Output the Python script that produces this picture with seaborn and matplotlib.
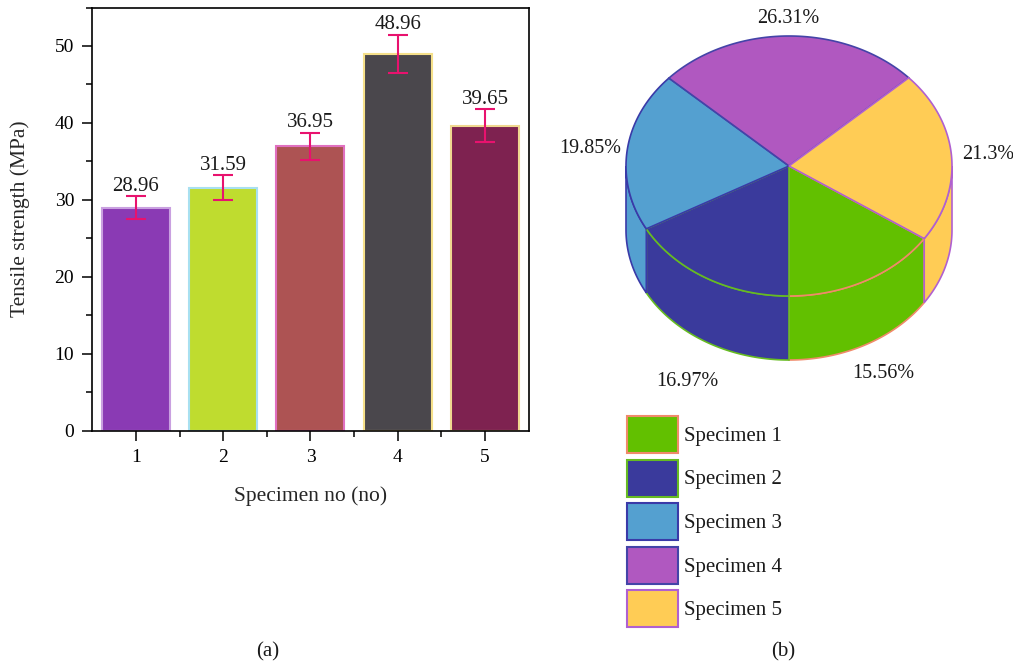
import numpy as np
import pandas as pd
import matplotlib
matplotlib.use("Agg")
import matplotlib.pyplot as plt
import seaborn as sns
from matplotlib.patches import Polygon, Patch
from matplotlib.ticker import MultipleLocator

# ---- panel (a): tensile strength per specimen ----
specimens = ["1", "2", "3", "4", "5"]
strength = [28.96, 31.59, 36.95, 48.96, 39.65]
strength_err = [1.5, 1.6, 1.8, 2.5, 2.1]
bar_colors = ["#8A3AB4", "#BFDC2F", "#AD5353", "#4A474C", "#7E2250"]
bar_edges = ["#C9A0E0", "#A8E0F0", "#E070C0", "#F5E08A", "#F0D890"]
err_color = "#E8126E"

# ---- panel (b): share of each specimen ----
pie_labels = ["Specimen 1", "Specimen 2", "Specimen 3", "Specimen 4", "Specimen 5"]
pie_share = [15.56, 16.97, 19.85, 26.31, 21.3]
pie_colors = ["#62C000", "#3A3A9C", "#54A0D0", "#B058C0", "#FFCC55"]
pie_edges = ["#F08A6A", "#66BB22", "#3A3AA8", "#4444A8", "#B060D0"]

sns.set_theme(style="ticks")
plt.rcParams["font.family"] = ["Liberation Serif", "DejaVu Serif"]
plt.rcParams.update({
    "axes.edgecolor": "black",
    "axes.linewidth": 1.2,
    "xtick.color": "black",
    "ytick.color": "black",
    "text.color": "#1a1a1a",
})

W, H = 1013, 667
fig = plt.figure(figsize=(W / 100, H / 100), dpi=100)

# ---------------- bar chart ----------------
ax = fig.add_axes([92.3 / W, 1 - 430.7 / H, (528.6 - 92.3) / W, (430.7 - 7.5) / H])
df = pd.DataFrame({"Specimen": specimens, "Strength": strength})
sns.barplot(data=df, x="Specimen", y="Strength", hue="Specimen",
            palette=bar_colors, legend=False, width=0.78, saturation=1,
            errorbar=None, ax=ax)
for patch, ec in zip(ax.patches, bar_edges):
    patch.set_edgecolor(ec)
    patch.set_linewidth(1.5)

centers = [p.get_x() + p.get_width() / 2 for p in ax.patches]
ax.errorbar(centers, strength, yerr=strength_err, fmt="none", ecolor=err_color,
            elinewidth=1.5, capsize=7, capthick=1.5, zorder=5)
for x, v, e in zip(centers, strength, strength_err):
    ax.annotate(f"{v:.2f}", xy=(x, v + e), xytext=(0, 4), textcoords="offset points",
                ha="center", va="baseline", fontsize=15)

ax.set_xlim(-0.5, 4.5)
ax.set_ylim(0, 55)
ax.yaxis.set_major_locator(MultipleLocator(10))
ax.yaxis.set_minor_locator(MultipleLocator(5))
ax.set_xticks(np.arange(0.5, 4, 1), minor=True)
ax.tick_params(which="both", direction="out", top=False, right=False, width=1.1)
ax.tick_params(which="major", length=7, labelsize=14, pad=6)
ax.tick_params(which="minor", length=4)
for s in ax.spines.values():
    s.set_visible(True)

ax.set_xlabel("Specimen no (no)", fontsize=15.5)
ax.set_ylabel("Tensile strength (MPa)", fontsize=15.5)
ax.xaxis.label.set_va("center")
ax.yaxis.label.set_va("center")
ax.xaxis.set_label_coords(0.5, (430.7 - 496) / 423.2)
ax.yaxis.set_label_coords((20 - 92.3) / 436.3, 0.5)

# ---------------- 3D pie chart ----------------
x0 = 560
pax = fig.add_axes([x0 / W, 0, (W - x0) / W, 1])
pax.set_xlim(x0, W)
pax.set_ylim(H, 0)
pax.axis("off")

cx, cy, rx, ry, depth = 789, 166, 163, 130, 64


def rim(theta_deg, dy=0.0):
    t = np.radians(theta_deg)
    return np.column_stack([cx + rx * np.cos(t), cy - ry * np.sin(t) + dy])


cum = np.concatenate([[0], np.cumsum(pie_share)]) * 3.6
start = -90 + pie_share[0] * 3.6   # first slice ends at the front
spans = [(start - cum[i + 1], start - cum[i]) for i in range(len(pie_share))]

# visible side walls (front half of the cylinder)
for (a0, a1), fc, ec in zip(spans, pie_colors, pie_edges):
    for lo_f, hi_f in [(-180, 0), (-540, -360)]:
        lo, hi = max(a0, lo_f), min(a1, hi_f)
        if hi - lo <= 0:
            continue
        th = np.linspace(lo, hi, 120)
        pts = np.vstack([rim(th), rim(th[::-1], depth)])
        pax.add_patch(Polygon(pts, closed=True, facecolor=fc, edgecolor=ec,
                              linewidth=1.2, zorder=1))

# top faces
for (a0, a1), fc, ec in zip(spans, pie_colors, pie_edges):
    th = np.linspace(a0, a1, 200)
    pts = np.vstack([[cx, cy], rim(th)])
    pax.add_patch(Polygon(pts, closed=True, facecolor=fc, edgecolor=ec,
                          linewidth=1.2, zorder=2))

# percentage labels
for (a0, a1), v in zip(spans, pie_share):
    t = np.radians((a0 + a1) / 2)
    lx = cx + 200 * np.cos(t)
    ly = cy - 148 * np.sin(t)
    if np.sin(t) < 0:
        ly += 82 - 12 * np.cos(t)
    pax.text(lx, ly, f"{v:g}%", ha="center", va="center", fontsize=14.5)

handles = [Patch(facecolor=c, edgecolor=e, linewidth=1.5, label=l)
           for l, c, e in zip(pie_labels, pie_colors, pie_edges)]
fig.legend(handles=handles, loc="upper left",
           bbox_to_anchor=(627 / W, 1 - 416 / H), bbox_transform=fig.transFigure,
           frameon=False, borderpad=0, borderaxespad=0, fontsize=15,
           handlelength=2.45, handleheight=2.36, handletextpad=0.3,
           labelspacing=0.31)

fig.text(268 / W, 1 - 652 / H, "(a)", ha="center", va="center", fontsize=15)
fig.text(783 / W, 1 - 652 / H, "(b)", ha="center", va="center", fontsize=15)

fig.savefig("out.png", dpi=100)
